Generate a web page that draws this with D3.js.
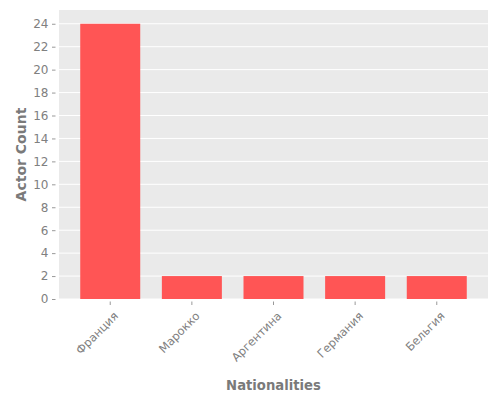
<!DOCTYPE html>
<html>
<head>
<meta charset="utf-8">
<script src="https://cdn.jsdelivr.net/npm/d3@7"></script>
<style>
  body { margin: 0; background: #fff; }
  text { font-family: 'DejaVu Sans', sans-serif; }
</style>
</head>
<body>
<div id="container"></div>
<script>
const nationalities = ['Франция', 'Марокко', 'Аргентина', 'Германия', 'Бельгия'];
const actorCounts = [24, 2, 2, 2, 2];
const yTicks = [0, 2, 4, 6, 8, 10, 12, 14, 16, 18, 20, 22, 24];

const svgWidth = 500;
const svgHeight = 400;
const plotLeft = 59;
const plotRight = 488;
const plotTop = 10;
const plotBottom = 299;

const svg = d3
  .select('#container')
  .append('svg')
  .attr('width', svgWidth)
  .attr('height', svgHeight);

// panel
svg
  .append('rect')
  .attr('x', plotLeft)
  .attr('y', plotTop)
  .attr('width', plotRight - plotLeft)
  .attr('height', plotBottom - plotTop)
  .attr('fill', '#eaeaea');

// scales
const xScale = d3
  .scaleBand()
  .domain(nationalities)
  .range([plotLeft, plotRight])
  .paddingInner(0.265)
  .paddingOuter(0.26);

const yScale = d3
  .scaleLinear()
  .domain([0, d3.max(actorCounts) * 1.05])
  .range([plotBottom, plotTop]);

// grid
svg
  .append('g')
  .selectAll('line')
  .data(yTicks)
  .enter()
  .append('line')
  .attr('x1', plotLeft)
  .attr('x2', plotRight)
  .attr('y1', d => yScale(d))
  .attr('y2', d => yScale(d))
  .attr('stroke', '#fff')
  .attr('stroke-width', 1);

// bars
svg
  .append('g')
  .selectAll('rect')
  .data(actorCounts)
  .enter()
  .append('rect')
  .attr('x', (d, i) => xScale(nationalities[i]))
  .attr('y', d => yScale(d))
  .attr('width', xScale.bandwidth())
  .attr('height', d => plotBottom - yScale(d))
  .attr('fill', '#ff5555');

// Y-AXIS
const yAxis = d3
  .axisLeft(yScale)
  .tickValues(yTicks)
  .tickSize(3.5)
  .tickPadding(3.5);

const yAxisG = svg
  .append('g')
  .attr('transform', `translate(${plotLeft - 3.5}, 0)`)
  .call(yAxis);

yAxisG.select('.domain').remove();
yAxisG.selectAll('line').attr('stroke', '#999');
yAxisG
  .selectAll('text')
  .attr('fill', '#808080')
  .style('font-size', '12px');

// X-AXIS
const xAxis = d3.axisBottom(xScale).tickSize(3.5).tickFormat('');

const xAxisG = svg
  .append('g')
  .attr('transform', `translate(0, ${plotBottom + 2.5})`)
  .call(xAxis);

xAxisG.select('.domain').remove();
xAxisG.selectAll('line').attr('stroke', '#999');

svg
  .append('g')
  .selectAll('text')
  .data(nationalities)
  .enter()
  .append('text')
  .attr('transform', d => {
    const x = xScale(d) + xScale.bandwidth() / 2 + 3;
    return `translate(${x}, 311) rotate(-45)`;
  })
  .attr('text-anchor', 'end')
  .attr('dy', '0.7em')
  .attr('fill', '#808080')
  .style('font-size', '11.5px')
  .text(d => d);

// titles
svg
  .append('text')
  .attr('x', (plotLeft + plotRight) / 2)
  .attr('y', 390)
  .attr('text-anchor', 'middle')
  .attr('fill', '#7a7a7a')
  .style('font-size', '13.2px')
  .style('font-weight', 'bold')
  .text('Nationalities');

svg
  .append('text')
  .attr('transform', `translate(25.5, ${(plotTop + plotBottom) / 2}) rotate(-90)`)
  .attr('text-anchor', 'middle')
  .attr('fill', '#7a7a7a')
  .style('font-size', '14px')
  .style('font-weight', 'bold')
  .text('Actor Count');
</script>
</body>
</html>
